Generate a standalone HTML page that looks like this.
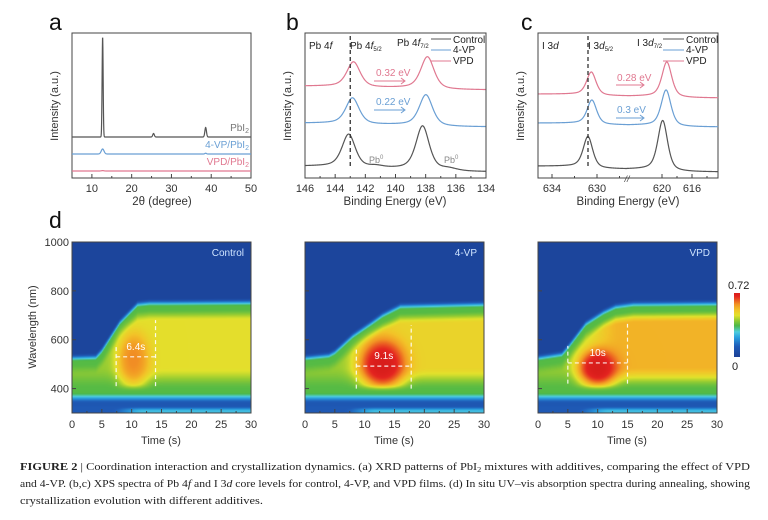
<!DOCTYPE html>
<html><head><meta charset="utf-8">
<style>
html,body{margin:0;padding:0;background:#fff;}
#wrap{position:relative;width:768px;height:520px;overflow:hidden;font-family:"Liberation Sans",sans-serif;}
svg{position:absolute;left:0;top:0;}
canvas{position:absolute;}
</style></head>
<body>
<div id="wrap">
<canvas id="hm0" width="179" height="171" style="left:72px;top:242px"></canvas>
<canvas id="hm1" width="179" height="171" style="left:305px;top:242px"></canvas>
<canvas id="hm2" width="179" height="171" style="left:538px;top:242px"></canvas>
<canvas id="cbar" width="6" height="64" style="left:734px;top:293px"></canvas>
<svg id="fig" width="768" height="520" viewBox="0 0 768 520" font-family="Liberation Sans, sans-serif">
  <text x="49" y="30" font-size="23" fill="#111">a</text>
  <text x="286" y="30" font-size="23" fill="#111">b</text>
  <text x="521" y="30" font-size="23" fill="#111">c</text>
  <text x="49" y="228" font-size="23" fill="#111">d</text>

  <text transform="translate(58,106) rotate(-90)" text-anchor="middle" font-size="11" fill="#333">Intensity (a.u.)</text>
  <text x="162" y="205" text-anchor="middle" font-size="11.5" fill="#333">2θ (degree)</text>
  <text x="249" y="131" text-anchor="end" font-size="10" fill="#777">PbI<tspan font-size="7" dy="2">2</tspan></text>
  <text x="249" y="148" text-anchor="end" font-size="10" fill="#6a9fd4">4-VP/PbI<tspan font-size="7" dy="2">2</tspan></text>
  <text x="249" y="165" text-anchor="end" font-size="10" fill="#e07890">VPD/PbI<tspan font-size="7" dy="2">2</tspan></text>

  <text transform="translate(291,106) rotate(-90)" text-anchor="middle" font-size="11" fill="#333">Intensity (a.u.)</text>
  <text x="395" y="205" text-anchor="middle" font-size="11.5" fill="#333">Binding Energy (eV)</text>
  <text x="309" y="49" font-size="10" fill="#222">Pb 4<tspan font-style="italic">f</tspan></text>
  <text x="350" y="49" font-size="10" fill="#222">Pb 4<tspan font-style="italic">f</tspan><tspan font-size="6" dy="2">5/2</tspan></text>
  <text x="397" y="46" font-size="10" fill="#222">Pb 4<tspan font-style="italic">f</tspan><tspan font-size="6" dy="2">7/2</tspan></text>
  <g font-size="10" fill="#222">
    <line x1="431" y1="39" x2="451" y2="39" stroke="#555" stroke-width="1"/><text x="453" y="43">Control</text>
    <line x1="431" y1="50" x2="451" y2="50" stroke="#6a9fd4" stroke-width="1"/><text x="453" y="53">4-VP</text>
    <line x1="431" y1="61" x2="451" y2="61" stroke="#e07890" stroke-width="1"/><text x="453" y="64">VPD</text>
  </g>
  <text x="376" y="76" font-size="10" fill="#e07890">0.32 eV</text>
  <line x1="374" y1="81" x2="404" y2="81" stroke="#e07890"/><path d="M401,78 L405,81 L401,84" fill="none" stroke="#e07890"/>
  <text x="376" y="105" font-size="10" fill="#6a9fd4">0.22 eV</text>
  <line x1="374" y1="110" x2="404" y2="110" stroke="#6a9fd4"/><path d="M401,107 L405,110 L401,113" fill="none" stroke="#6a9fd4"/>
  <text x="369" y="163" font-size="9" fill="#888">Pb<tspan font-size="6" dy="-4">0</tspan></text>
  <text x="444" y="163" font-size="9" fill="#888">Pb<tspan font-size="6" dy="-4">0</tspan></text>

  <text transform="translate(524,106) rotate(-90)" text-anchor="middle" font-size="11" fill="#333">Intensity (a.u.)</text>
  <text x="628" y="205" text-anchor="middle" font-size="11.5" fill="#333">Binding Energy (eV)</text>
  <text x="542" y="49" font-size="10" fill="#222">I 3<tspan font-style="italic">d</tspan></text>
  <text x="588" y="49" font-size="10" fill="#222">I 3<tspan font-style="italic">d</tspan><tspan font-size="6" dy="2">5/2</tspan></text>
  <text x="637" y="46" font-size="10" fill="#222">I 3<tspan font-style="italic">d</tspan><tspan font-size="6" dy="2">7/2</tspan></text>
  <g font-size="10" fill="#222">
    <line x1="663" y1="39" x2="684" y2="39" stroke="#555"/><text x="686" y="43">Control</text>
    <line x1="663" y1="50" x2="684" y2="50" stroke="#6a9fd4"/><text x="686" y="53">4-VP</text>
    <line x1="663" y1="61" x2="684" y2="61" stroke="#e07890"/><text x="686" y="64">VPD</text>
  </g>
  <text x="617" y="81" font-size="10" fill="#e07890">0.28 eV</text>
  <line x1="616" y1="85" x2="643" y2="85" stroke="#e07890"/><path d="M640,82 L644,85 L640,88" fill="none" stroke="#e07890"/>
  <text x="617" y="113" font-size="10" fill="#6a9fd4">0.3 eV</text>
  <line x1="616" y1="118" x2="643" y2="118" stroke="#6a9fd4"/><path d="M640,115 L644,118 L640,121" fill="none" stroke="#6a9fd4"/>

  <text transform="translate(36,327) rotate(-90)" text-anchor="middle" font-size="11" fill="#333">Wavelength (nm)</text>
  <text x="161" y="444" text-anchor="middle" font-size="11" fill="#333">Time (s)</text>
  <text x="394" y="444" text-anchor="middle" font-size="11" fill="#333">Time (s)</text>
  <text x="627" y="444" text-anchor="middle" font-size="11" fill="#333">Time (s)</text>
  <text x="728" y="289" font-size="11" fill="#222">0.72</text>
  <text x="732" y="370" font-size="11" fill="#222">0</text>

  <g font-family="Liberation Serif, serif" font-size="10.5" fill="#222">
    <text x="20" y="470" textLength="730" lengthAdjust="spacingAndGlyphs"><tspan font-weight="bold">FIGURE  2</tspan>  |  Coordination interaction and crystallization dynamics. (a) XRD patterns of PbI<tspan font-size="7" dy="2">2</tspan><tspan dy="-2"> mixtures with additives, comparing the effect of VPD</tspan></text>
    <text x="20" y="487" textLength="730" lengthAdjust="spacingAndGlyphs">and 4-VP. (b,c) XPS spectra of Pb 4<tspan font-style="italic">f</tspan> and I 3<tspan font-style="italic">d</tspan> core levels for control, 4-VP, and VPD films. (d) In situ UV–vis absorption spectra during annealing, showing</text>
    <text x="20" y="504" textLength="243" lengthAdjust="spacingAndGlyphs">crystallization evolution with different additives.</text>
  </g>
  <g id="dyn"></g>
</svg>
</div>
<script>
// ---------- DATA ----------
const xrdAngles=[12.7,25.5,38.6];
const xrdPbI2=[100,3.5,9.5];
const xrd4VP=[5,0,0.8];
const xrdVPD=[0.4,0,0];
const xrdTicks=[10,20,30,40,50];
const bPeaksCtrl=[143.1,138.2];
const bHeightsCtrl=[33,44];
const bPeaks4VP=[142.85,137.98];
const bHeights4VP=[26,31];
const bPeaksVPD=[142.78,137.88];
const bHeightsVPD=[25,32];
const bTicks=[146,144,142,140,138,136,134];
const cPeaksCtrl=[630.8,619.9];
const cHeightsCtrl=[31,50];
const cPeaks4VP=[630.45,619.45];
const cHeights4VP=[24,36];
const cPeaksVPD=[630.5,619.35];
const cHeightsVPD=[23,35];
const cTicks=[634,630,620,616];
const hmTimes=[0,4,5,8,11,13,16,30];
const edgeCtrl=[525,528,555,670,745,750,750,752];
const edge4VP=[525,535,548,615,665,700,737,745];
const edgeVPD=[525,540,568,665,712,735,745,748];
const hotCtrl=[10.3,520,0.77,2.5,105];
const hot4VP=[13,500,0.93,3.6,95];
const hotVPD=[10,485,0.93,3.1,72];
const plateauLevels=[0.61,0.64,0.71];
const dashCtrl=[7.4,14,530,410,570,680];
const dash4VP=[8.6,17.8,492,400,570,660];
const dashVPD=[5,15,505,420,575,665];
const durLabels=['6.4s','9.1s','10s'];
const panelNames=['Control','4-VP','VPD'];
const timeTicks=[0,5,10,15,20,25,30];
const waveTicks=[400,600,800,1000];

const NS='http://www.w3.org/2000/svg';
const dyn=document.getElementById('dyn');
function el(tag,parent){const e=document.createElementNS(NS,tag);(parent||dyn).appendChild(e);return e;}
function attr(e,o){for(const k in o)e.setAttribute(k,o[k]);return e;}
function pv(x,c,w){const d=(x-c)/(w/2);const L=1/(1+d*d);const G=Math.exp(-Math.log(2)*d*d);return 0.55*L+0.45*G;}
function frame(x0,y0,x1,y1,name){
  const r=el('rect');attr(r,{x:x0,y:y0,width:x1-x0,height:y1-y0,fill:'none',stroke:'#444','stroke-width':1});
  
  
}
function tickX(x,y,len,name){const l=el('line');attr(l,{x1:x,x2:x,y1:y,y2:y-len,stroke:'#444'});
  
  }
function label(x,y,txt,name,anchor){const t=el('text');attr(t,{x:x,y:y,'text-anchor':anchor||'middle','font-size':11,fill:'#333'});t.textContent=txt;
  
  }
function curve(d,color,name){const p=el('path');attr(p,{d:d,fill:'none',stroke:color,'stroke-width':1.2});
  
  }

// panel a
const xa=v=>72+(v-5)*179/45;
frame(72,33,251,178,'a-plot-frame');
xrdTicks.forEach(v=>{tickX(xa(v),178,4,'a-x-tick');label(xa(v),192,String(v),'a-x-tick-label');});
[15,25,35,45].forEach(v=>tickX(xa(v),178,2,'a-x-minor-tick'));
function xrdPath(h,base,sig){let d='';for(let a=5;a<=50;a+=0.04){let y=0;for(let i=0;i<xrdAngles.length;i++){const s=(i===0?sig:0.2);y+=h[i]*Math.exp(-Math.pow(a-xrdAngles[i],2)/(2*s*s));}
  d+=(d?'L':'M')+xa(a).toFixed(2)+','+(base-y).toFixed(2);}return d;}
curve(xrdPath(xrdPbI2,137,0.13),'#555','xrd-pbi2-line');
curve(xrdPath(xrd4VP,154,0.35),'#6a9fd4','xrd-4vp-line');
curve(xrdPath(xrdVPD,171,0.3),'#e07890','xrd-vpd-line');

// panel b
const xb=v=>305+(146-v)*181/12;
frame(305,33,486,178,'b-plot-frame');
bTicks.forEach(v=>{tickX(xb(v),178,4,'b-x-tick');label(xb(v),192,String(v),'b-x-tick-label');});
[145,143,141,139,137,135].forEach(v=>tickX(xb(v),178,2,'b-x-minor-tick'));
function xpsB(pk,hh,base,step,shoulder){let d='';for(let e=146;e>=134;e-=0.03){let y=0;
  for(let i=0;i<pk.length;i++){y+=hh[i]*pv(e,pk[i],1.05);y+=step*(0.5+Math.atan((e-pk[i])/0.5)/Math.PI)*(i===0?0.45:0.55);}
  if(shoulder){y+=2*pv(e,141.3,1.2)+2.5*pv(e,136.5,1.4);}
  d+=(d?'L':'M')+xb(e).toFixed(2)+','+(base-y).toFixed(2);}return d;}
curve(xpsB(bPeaksCtrl,bHeightsCtrl,172,6,true),'#555','xps-b-control-line');
curve(xpsB(bPeaks4VP,bHeights4VP,127,4,false),'#6a9fd4','xps-b-4vp-line');
curve(xpsB(bPeaksVPD,bHeightsVPD,90,4,false),'#e07890','xps-b-vpd-line');
const db=el('line');attr(db,{x1:xb(143),x2:xb(143),y1:36,y2:166,stroke:'#333','stroke-dasharray':'4,3','stroke-width':1.3});



// panel c
const xc=v=>v>=627.3?552+(634-v)*11.25:662+(620-v)*7.5;
frame(538,33,718,178,'c-plot-frame');
cTicks.forEach(v=>{tickX(xc(v),178,4,'c-x-tick');label(xc(v),192,String(v),'c-x-tick-label');});
[632,628,618,614].forEach(v=>tickX(xc(v),178,2,'c-x-minor-tick'));
function xpsC(pk,hh,base,step){
  const seg=(a,b,i)=>{let s='';for(let e=a;e>=b;e-=0.03){let y=hh[i]*pv(e,pk[i],i===0?1.0:1.55);
    y+=(i===0?step+step*(0.5+Math.atan((e-pk[0])/0.5)/Math.PI):step*(0.5+Math.atan((e-pk[1])/0.6)/Math.PI));
    s+=(s?'L':'M')+xc(e).toFixed(2)+','+(base-y).toFixed(2);}return s;};
  return seg(635.2,627.3,0)+' '+seg(624.7,612.5,1);}
curve(xpsC(cPeaksCtrl,cHeightsCtrl,172,3),'#555','xps-c-control-line');
curve(xpsC(cPeaks4VP,cHeights4VP,127,2),'#6a9fd4','xps-c-4vp-line');
curve(xpsC(cPeaksVPD,cHeightsVPD,98,2),'#e07890','xps-c-vpd-line');
const dc=el('line');attr(dc,{x1:588,x2:588,y1:36,y2:166,stroke:'#333','stroke-dasharray':'4,3','stroke-width':1.3});


const brk=el('text');attr(brk,{x:627,y:182,'font-size':9,'text-anchor':'middle',fill:'#444','font-style':'italic'});brk.textContent='//';



// panel d
const stops=[[0,[28,66,152]],[0.15,[31,92,184]],[0.28,[42,160,224]],[0.36,[80,206,222]],[0.45,[76,184,72]],[0.53,[150,204,50]],[0.6,[226,226,44]],[0.68,[242,196,40]],[0.76,[242,150,36]],[0.88,[228,36,32]],[1,[200,20,20]]];
function cmap(v){v=Math.max(0,Math.min(1,v));for(let i=1;i<stops.length;i++){if(v<=stops[i][0]){const a=stops[i-1],b=stops[i];const f=(v-a[0])/(b[0]-a[0]);return a[1].map((c,k)=>Math.round(c+(b[1][k]-c)*f));}}return stops[stops.length-1][1];}
function interp(xs,ys,x){if(x<=xs[0])return ys[0];for(let i=1;i<xs.length;i++){if(x<=xs[i]){const f=(x-xs[i-1])/(xs[i]-xs[i-1]);return ys[i-1]+(ys[i]-ys[i-1])*f;}}return ys[ys.length-1];}
const ss=(a,b,x)=>{const t=Math.max(0,Math.min(1,(x-a)/(b-a)));return t*t*(3-2*t);};
const ty=w=>242+(1000-w)*171/700;
const edges=[edgeCtrl,edge4VP,edgeVPD];
const hots=[hotCtrl,hot4VP,hotVPD];
const dashes=[dashCtrl,dash4VP,dashVPD];
const lefts=[72,305,538];
function intensity(p,t,w){
  const E=interp(hmTimes,edges[p],t);
  const s=ss(E+20,E-15,w);
  const late=ss(5,14,t);
  const top=0.53+(plateauLevels[p]-0.53)*late;
  let V=0.46+(top-0.46)*ss(395,490,w)*ss(E-25,E-75,w);
  if(w<390){V=0.12+(0.46-0.12)*ss(338,385,w);}
  if(w<330){V=0.13+0.2*ss(6,12,t)*ss(328,308,w);}
  let I=0.02+(V-0.02)*s;
  const h=hots[p];const dt=(t-h[0])/h[3],dw=(w-h[1])/h[4];
  const gg=Math.exp(-0.7*Math.pow(dt*dt+dw*dw,1.5))*ss(E+5,E-40,w)*ss(385,420,w);
  I=I+(h[2]-I)*gg;
  return I;
}
for(let p=0;p<3;p++){
  const cv=document.getElementById('hm'+p);const ctx=cv.getContext('2d');const img=ctx.createImageData(179,171);
  for(let j=0;j<171;j++){const w=1000-(j+0.5)*700/171;
    for(let i=0;i<179;i++){const t=(i+0.5)*30/179;const c=cmap(intensity(p,t,w));const k=(j*179+i)*4;img.data[k]=c[0];img.data[k+1]=c[1];img.data[k+2]=c[2];img.data[k+3]=255;}}
  ctx.putImageData(img,0,0);
  const L=lefts[p];const tx=t=>L+t*179/30;
  frame(L,242,L+179,413,'heatmap-frame-'+p);
  timeTicks.forEach(v=>{tickX(tx(v),413,4,'d-x-tick');label(tx(v),428,String(v),'d-x-tick-label');});
  [2.5,7.5,12.5,17.5,22.5,27.5].forEach(v=>tickX(tx(v),413,2,'d-x-minor-tick'));
  waveTicks.forEach(v=>{const l=el('line');attr(l,{x1:L,x2:L+4,y1:ty(v),y2:ty(v),stroke:'#444'});
    
    
    if(p===0)label(L-3,ty(v)+4,String(v),'d-y-tick-label','end');});
  const D=dashes[p];
  const dl=el('path');attr(dl,{d:`M${tx(D[0])},${ty(D[3])}V${ty(D[4])}M${tx(D[0])},${ty(D[2])}H${tx(D[1])}M${tx(D[1])},${ty(D[3])}V${ty(D[5])}`,fill:'none',stroke:'#fff','stroke-dasharray':'4,3','stroke-width':1.2,opacity:0.9});
  
  
  const lt=el('text');attr(lt,{x:(tx(D[0])+tx(D[1]))/2,y:ty(D[2])-7,'text-anchor':'middle','font-size':10,fill:'#fff'});lt.textContent=durLabels[p];
  
  
  const nt=el('text');attr(nt,{x:L+172,y:256,'text-anchor':'end','font-size':10,fill:'#cfe4ff'});nt.textContent=panelNames[p];
  
  
}
(function(){const cv=document.getElementById('cbar');const ctx=cv.getContext('2d');for(let j=0;j<64;j++){const c=cmap(0.92*(1-j/63));ctx.fillStyle=`rgb(${c[0]},${c[1]},${c[2]})`;ctx.fillRect(0,j,6,1);}})();
</script>
</body></html>
